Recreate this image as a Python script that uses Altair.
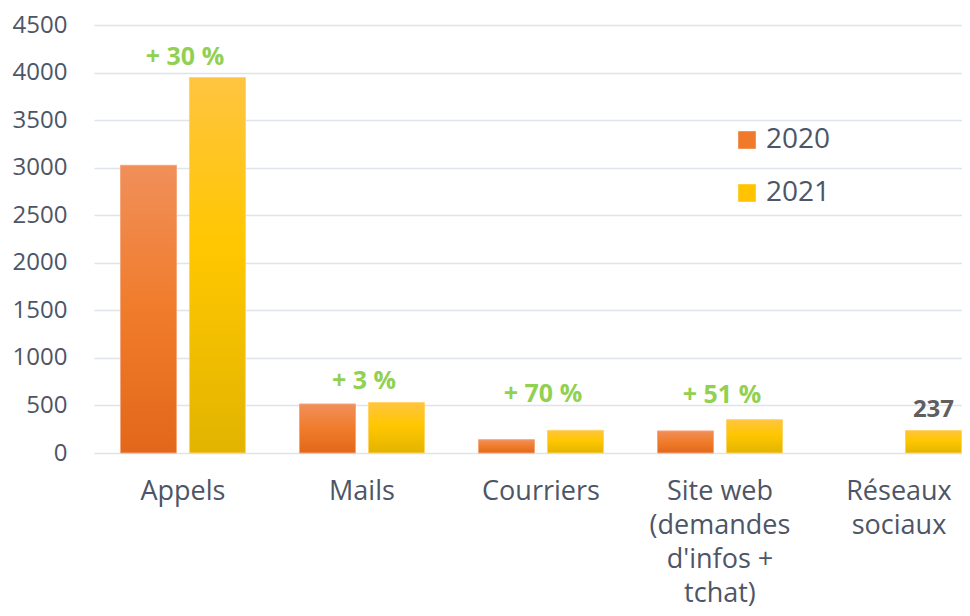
import altair as alt
import pandas as pd

# ---- data ----
categories = ["Appels", "Mails", "Courriers", "Site web\n(demandes\nd'infos +\ntchat)", "Réseaux\nsociaux"]
years = ["2020", "2021"]
values_2020 = [3025, 515, 140, 232, None]
values_2021 = [3947, 530, 238, 350, 237]
pct_labels = ["+ 30 %", "+ 3 %", "+ 70 %", "+ 51 %", ""]
pct_gap_px = [13, 14, 28, 17, 0]          # style: label lift above the bar, pixels
value_label_cat = "Réseaux\nsociaux"
y_ticks = [0, 500, 1000, 1500, 2000, 2500, 3000, 3500, 4000, 4500]

Y_MAX = 4500
PLOT_H = 428

rows = []
for c, v0, v1 in zip(categories, values_2020, values_2021):
    rows.append({"cat": c, "year": "2020", "value": v0})
    rows.append({"cat": c, "year": "2021", "value": v1})
df = pd.DataFrame(rows)

ann = pd.DataFrame({
    "cat": categories,
    "label": pct_labels,
    "top": values_2021,
    "gap": pct_gap_px,
})
ann = ann[ann["label"] != ""]

TEXT = "#4D5566"
FONT = "Open Sans"

grad_2020 = alt.LinearGradient(
    gradient="linear", x1=0, y1=0, x2=0, y2=1,
    stops=[alt.GradientStop(offset=0, color="#F08F5A"),
           alt.GradientStop(offset=0.5, color="#F07C2B"),
           alt.GradientStop(offset=1, color="#E2671A")])
grad_2021 = alt.LinearGradient(
    gradient="linear", x1=0, y1=0, x2=0, y2=1,
    stops=[alt.GradientStop(offset=0, color="#FFC440"),
           alt.GradientStop(offset=0.45, color="#FFC700"),
           alt.GradientStop(offset=1, color="#E2B400")])

x_enc = alt.X(
    "cat:N", sort=categories,
    scale=alt.Scale(paddingInner=0.302, paddingOuter=0.0755, align=0.98),
    axis=alt.Axis(title=None, labelAngle=0, domain=False, ticks=False, tickSize=0,
                  grid=False, labelFontSize=27, labelColor=TEXT, labelFont=FONT,
                  labelLineHeight=34, labelBaseline="alphabetic", labelPadding=46,
                  labelOverlap=False, labelLimit=300,
                  labelExpr="split(datum.label, '\\n')"),
)
xoff_enc = alt.XOffset("year:N", sort=years,
                       scale=alt.Scale(paddingInner=0.188, paddingOuter=0))
y_enc = alt.Y(
    "value:Q",
    scale=alt.Scale(domain=[0, Y_MAX], nice=False),
    axis=alt.Axis(title=None, values=y_ticks, format="d", domain=False, ticks=False,
                  tickSize=0, labelPadding=27, labelFontSize=24, labelColor=TEXT,
                  labelFont=FONT, gridColor="#DFE3EA", gridWidth=1.5),
)

base = alt.Chart(df).encode(x=x_enc, xOffset=xoff_enc, y=y_enc)

bars_2020 = base.transform_filter(alt.datum.year == "2020").mark_bar(
    fill=grad_2020, stroke="#F5A77C", strokeWidth=1)
bars_2021 = base.transform_filter(alt.datum.year == "2021").mark_bar(
    fill=grad_2021, stroke="#FFD466", strokeWidth=1)

legend_layer = base.mark_bar(opacity=0).encode(
    color=alt.Color("year:N", sort=years,
                    scale=alt.Scale(domain=years, range=["#F07A2A", "#FFC300"]),
                    legend=alt.Legend(title=None, orient="none", legendX=639, legendY=101,
                                      symbolType="square", symbolSize=310, symbolOpacity=1,
                                      symbolStrokeWidth=0,
                                      labelFontSize=28, labelColor=TEXT, labelFont=FONT,
                                      rowPadding=25, labelOffset=5))
)

pct_text = alt.Chart(ann).transform_calculate(
    label_y=f"datum.top + datum.gap * {Y_MAX} / {PLOT_H}"
).mark_text(
    font=FONT, fontSize=25, fontWeight="bold", color="#92D050",
    baseline="alphabetic", align="center", dx=2
).encode(
    x=alt.X("cat:N", sort=categories),
    y=alt.Y("label_y:Q"),
    text="label:N",
)

value_text = base.transform_filter(
    (alt.datum.year == "2021") & (alt.datum.cat == value_label_cat)
).mark_text(
    font=FONT, fontSize=24, fontWeight="bold", color="#5F5F5F",
    baseline="alphabetic", align="center", dy=-13
).encode(text=alt.Text("value:Q", format="d"))

chart = alt.layer(legend_layer, bars_2020, bars_2021, pct_text, value_text).properties(
    width=868, height=PLOT_H,
    autosize=alt.AutoSizeParams(type="none"),
    padding={"left": 86, "top": 17, "right": 0, "bottom": 155},
    background="white",
).configure(font=FONT).configure_view(strokeWidth=0, stroke="transparent")

chart.save("out.html", embed_options={"renderer": "svg", "actions": False})
